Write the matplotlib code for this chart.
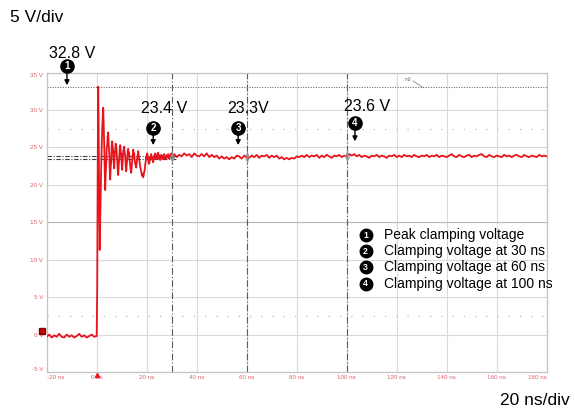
import numpy as np
import matplotlib
matplotlib.use("Agg")
import matplotlib.pyplot as plt

plt.rcParams['font.family'] = ['Liberation Sans', 'DejaVu Sans']

# ---------------- data ----------------
x_ticks_ns = [-20, 0, 20, 40, 60, 80, 100, 120, 140, 160, 180]
x_tick_labels = ["-20 ns", "0 ns", "20 ns", "40 ns", "60 ns", "80 ns", "100 ns",
                 "120 ns", "140 ns", "160 ns", "180 ns"]
y_ticks_v = [-5, 0, 5, 10, 15, 20, 25, 30, 35]
y_tick_labels = ["-5 V", "0 V", "5 V", "10 V", "15 V", "20 V", "25 V", "30 V", "35 V"]

# pre-trigger baseline (1 ns samples, -20 .. -1 ns)
baseline_t = np.arange(-20, 0, 1.0)
baseline_v = [-0.3, 0.0, -0.4, -0.1, -0.3, 0.1, -0.3, -0.4, 0.0, -0.3,
              -0.1, -0.4, -0.2, 0.1, -0.3, -0.1, -0.4, -0.2, 0.0, -0.3]

# surge edge and ringing (0.2 ns samples, 0 .. 30.8 ns)
ring_t = np.round(np.arange(155) * 0.2, 1)
ring_v = [-0.2, 6.0, 22.0, 33.1, 27.0, 18.0, 11.3, 15.0, 19.5, 22.5,
          25.0, 27.5, 28.8, 30.3, 28.0,
          25.5, 22.0, 19.3, 21.5, 22.8, 24.9, 25.3, 26.6, 27.0, 25.4,
          24.3, 22.0, 20.7, 22.4, 23.1, 25.1, 25.8, 25.0, 24.6, 23.0,
          22.2, 23.9, 24.6, 25.5, 25.2, 24.3, 23.4, 22.0, 21.3, 22.6,
          23.4, 24.8, 25.3, 24.4, 24.1, 22.8, 22.0, 23.2, 24.4, 24.8,
          25.1, 24.2, 23.9, 22.6, 21.8, 22.7, 23.3, 24.5, 24.8, 24.0,
          24.3, 23.2, 22.6, 22.0, 21.6, 22.5, 23.2, 24.0, 24.7, 23.8,
          24.2, 23.3, 22.8, 22.6, 22.3, 23.0, 23.6, 24.0, 24.5, 23.9,
          23.6, 22.9, 22.4, 22.1, 21.8, 21.4, 21.2, 21.5, 21.0, 21.3,
          21.7, 22.0, 22.7, 23.1, 23.8, 23.6, 24.2, 23.8, 23.4, 23.0,
          22.8, 23.3, 23.7, 23.5, 24.1, 23.7, 23.3, 23.6, 23.0, 23.5,
          23.9, 23.6, 24.2, 23.8, 23.4, 23.9, 23.6, 24.1, 24.3, 23.7,
          23.5, 23.9, 23.3, 23.7, 24.0, 23.6, 23.9, 23.5, 23.4, 23.9,
          24.1, 23.6, 23.8, 23.5, 23.4, 23.8, 24.0, 23.7, 24.1, 23.6,
          23.5, 23.9, 23.7, 24.0, 24.2, 23.7, 23.6, 23.9, 23.7, 24.0]

# clamped plateau (1 ns samples, 31 .. 180 ns)
flat_t = np.arange(31, 181, 1.0)
flat_v = [24.1, 23.7, 24.0, 23.8, 24.2, 23.9, 24.1, 23.7, 24.2, 23.9,
          23.8, 24.1, 23.8, 24.2, 23.7, 24.0, 23.7, 23.9, 23.5, 23.8,
          23.5, 23.7, 23.4, 23.7, 23.5, 23.9, 23.8, 23.5, 23.9, 23.7,
          23.6, 23.9, 23.7, 24.0, 23.6, 23.9, 23.8, 24.0, 23.6, 23.9,
          23.7, 23.9, 23.5, 23.7, 23.4, 23.6, 23.4, 23.6, 23.5, 23.8,
          23.7, 23.9, 23.7, 24.0, 23.7, 23.9, 23.8, 24.0, 23.6, 23.9,
          23.7, 24.0, 23.8, 23.6, 23.9, 23.8, 24.0, 23.7, 23.9, 23.8,
          24.1, 23.9, 24.1, 23.8, 24.0, 23.7, 23.9, 23.8, 23.6, 23.9,
          23.8, 24.0, 23.7, 23.9, 23.8, 23.6, 23.9, 23.8, 24.0, 23.7,
          23.9, 23.7, 24.0, 23.8, 23.9, 23.7, 24.0, 23.8, 23.7, 23.9,
          23.8, 24.0, 23.7, 23.9, 23.8, 24.0, 23.7, 23.9, 23.8, 23.7,
          23.9, 24.1, 23.8, 23.7, 24.0, 23.8, 23.7, 23.9, 24.0, 23.7,
          23.9, 23.8, 24.0, 24.1, 23.8, 23.7, 24.0, 23.8, 23.7, 23.9,
          23.8, 23.7, 24.0, 23.8, 23.9, 23.7, 23.9, 24.0, 23.8, 23.7,
          24.0, 23.8, 23.7, 23.9, 23.8, 23.7, 24.0, 23.8, 23.9, 23.8]

cursor_times_ns = [30, 60, 100]
cursor_levels_v = [23.45, 23.8]
peak_level_v = 33.0

# numbered callouts: (number, time, circle level, arrow tip level)
callouts = [("1", -11.9, 35.9, 33.3),
            ("2", 22.6, 27.6, 25.3),
            ("3", 56.6, 27.6, 25.3),
            ("4", 103.3, 28.2, 25.8)]
value_labels = [("32.8 V", -9.7, 36.9),
                ("23.4 V", 26.9, 29.6),
                ("23.3V", 60.5, 29.6),
                ("23.6 V", 108.0, 29.8)]
legend_items = ["Peak clamping voltage", "Clamping voltage at 30 ns",
                "Clamping voltage at 60 ns", "Clamping voltage at 100 ns"]

trace_t = np.concatenate([baseline_t, ring_t, flat_t])
trace_v = np.concatenate([baseline_v, ring_v, flat_v])

# ---------------- figure ----------------
W, H = 575, 412
fig = plt.figure(figsize=(W / 100, H / 100), dpi=100)
fig.patch.set_facecolor("white")

ax = fig.add_axes([46.7 / W, 1 - 372 / H, 500 / W, (372 - 72.5) / H])
ax.set_xlim(-20, 180)
ax.set_ylim(-5, 35)

grid_c = "#dadada"
for s in ax.spines.values():
    s.set_color("#c4c4c4")
    s.set_linewidth(0.9)
ax.set_xticks(x_ticks_ns)
ax.set_yticks(y_ticks_v)
ax.set_xticklabels(x_tick_labels)
ax.set_yticklabels(y_tick_labels)
ax.tick_params(length=0, labelsize=4.5, colors="#e2606c", pad=2)
ax.tick_params(axis="y", pad=2.6)
for lab in ax.get_xticklabels() + ax.get_yticklabels():
    lab.set_family(["Liberation Sans Narrow", "Liberation Sans", "DejaVu Sans"])
xl = ax.get_xticklabels()
xl[0].set_ha("left")
xl[-1].set_ha("right")
yl = ax.get_yticklabels()
yl[0].set_va("bottom")
yl[-1].set_va("top")
ax.grid(True, color=grid_c, lw=0.8)
ax.set_axisbelow(True)

# minor dotted rows and center line
for lvl in (2.5, 27.5):
    ax.axhline(lvl, color="#b8b8b8", lw=0.9, ls=(0, (1, 8)), zorder=1)
ax.axhline(15, color="#b8b8b8", lw=0.8, zorder=1)

# cursors
for tc in cursor_times_ns:
    ax.axvline(tc, color="#5a5a5a", lw=0.8, ls=(0, (6, 2, 1, 2)), zorder=2)
ax.axhline(peak_level_v, color="#707070", lw=0.8, ls=(0, (1, 1.3)), zorder=2)
ax.hlines(cursor_levels_v, -20, 32, colors="#404040", lw=0.8,
          linestyles=[(0, (4, 1.5, 1, 1.5))], zorder=2)

# trace
ax.plot(trace_t, trace_v, color="#e8141c", lw=1.3, zorder=3, solid_joinstyle="round")

# cursor crossing markers
cross_v = np.interp(cursor_times_ns, trace_t, trace_v)
ax.plot(cursor_times_ns, cross_v, ls="none", marker="d", ms=4, mfc="none",
        mec="#909090", mew=0.8, zorder=4)
ax.plot(cursor_times_ns, cross_v, ls="none", marker="|", ms=8, color="#909090",
        mew=0.8, zorder=4)

# channel & trigger markers
ax.plot([-21.9], [0.5], marker="s", ms=5, color="#c80000", mec="#800000",
        clip_on=False, zorder=5)
ax.plot([0], [-5.35], marker="^", ms=3, color="#e8141c", clip_on=False, zorder=5)

# callouts
r_v = 0.85
for num, tt, vc, vtip in callouts:
    ax.annotate("", xy=(tt, vtip), xytext=(tt, vc - r_v),
                arrowprops=dict(arrowstyle="-|>", color="black", lw=1.0,
                                mutation_scale=7, shrinkA=0, shrinkB=0),
                annotation_clip=False, zorder=6)
    ax.plot([tt], [vc], marker="o", ms=9.5, color="black", clip_on=False, zorder=7)
    ax.text(tt, vc, num, color="white", fontsize=7, fontweight="bold",
            ha="center", va="center", zorder=8, clip_on=False)

for txt, tt, vb in value_labels:
    ax.text(tt, vb, txt, fontsize=11.5, ha="center", va="baseline", color="black",
            clip_on=False, zorder=8)

# overlay in pixel space for page texts and legend
ov = fig.add_axes([0, 0, 1, 1], zorder=10)
ov.set_xlim(0, W)
ov.set_ylim(H, 0)
ov.axis("off")
ov.patch.set_alpha(0)

ov.text(10, 21.7, "5 V/div", fontsize=12.5, ha="left", va="baseline")
ov.text(570, 405, "20 ns/div", fontsize=12.5, ha="right", va="baseline")

# small "m2" marker tag
ov.text(405, 80.5, "m2", fontsize=3.5, color="#777777", ha="left", va="baseline")
ov.plot([413, 423], [81, 87.5], color="#888888", lw=0.6)

leg_y0, leg_dy = 235, 16.2
for i, item in enumerate(legend_items):
    yy = leg_y0 + i * leg_dy
    ov.plot([365.5], [yy], marker="o", ms=9, color="black")
    ov.text(365.5, yy + 0.3, str(i + 1), color="white", fontsize=6.3,
            fontweight="bold", ha="center", va="center")
    ov.text(384, yy, item, fontsize=10, ha="left", va="center")

fig.savefig("out.png", dpi=100, facecolor="white")
